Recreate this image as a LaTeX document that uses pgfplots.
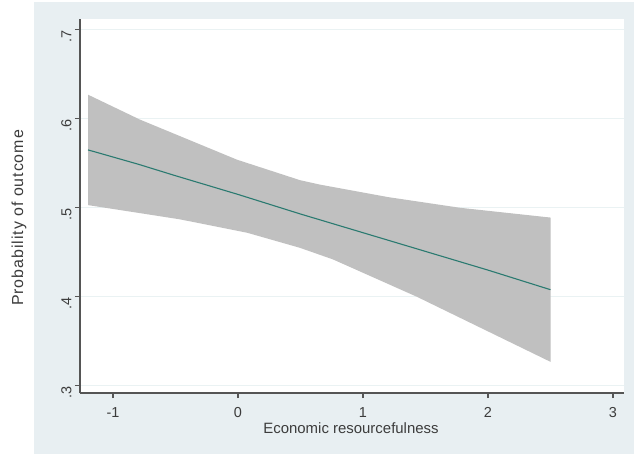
\documentclass[border=0pt]{standalone}
\usepackage{pgfplots}
\pgfplotsset{compat=1.18}
\usepackage{fontspec}
\setmainfont{Liberation Sans}
\definecolor{bgc}{RGB}{232,239,242}
\definecolor{gridc}{RGB}{234,242,243}
\definecolor{bandc}{RGB}{192,192,192}
\definecolor{linec}{RGB}{42,122,112}
\definecolor{axc}{RGB}{85,85,85}
\definecolor{txtc}{RGB}{60,60,60}
\begin{document}
\begin{tikzpicture}
\fill[white] (0,0) rectangle (634bp,454bp);
\fill[bgc] (34bp,0) rectangle (634bp,452bp);
\useasboundingbox (0,0) rectangle (634bp,454bp);
\begin{axis}[
  at={(80bp,61bp)}, anchor=south west,
  scale only axis, width=544bp, height=374bp,
  xmin=-1.264, xmax=3.088, ymin=0.292, ymax=0.712,
  axis x line*=bottom, axis y line*=left,
  axis line style={-, draw=axc, line width=1.1bp},
  axis background/.style={fill=white},
  xtick={-1,0,1,2,3},
  ytick={0.3,0.4,0.5,0.6,0.7},
  yticklabels={.3,.4,.5,.6,.7},
  tick align=outside, major tick length=5bp,
  tick style={draw=axc, line width=1.1bp},
  ymajorgrids, grid style={draw=gridc, line width=1.2bp},
  /pgf/number format/assume math mode=true,
  ticklabel style={font=\fontsize{14.5}{16}\selectfont, text=txtc},
  xticklabel style={yshift=-6bp},
  yticklabel style={rotate=90, anchor=south, xshift=-7bp},
  clip=false,
]
\addplot[fill=bandc, draw=none] coordinates {
 (-1.2,0.627) (-0.784,0.599) (-0.008,0.554) (0.496,0.531) (0.656,0.526) (1.2,0.512) (1.776,0.500) (2.5,0.489)
 (2.5,0.327) (1.432,0.400) (0.76,0.442) (0.496,0.455) (0.072,0.472) (-0.464,0.487) (-0.784,0.494) (-1.2,0.503)
} -- cycle;
\addplot[draw=linec, line width=1.1bp] coordinates {
 (-1.2,0.565) (-0.8,0.549) (-0.5,0.536) (0,0.515) (0.5,0.493) (1,0.472) (1.5,0.451) (2,0.430) (2.5,0.408)
};
\end{axis}
\node[text=txtc, font=\fontsize{15}{17}\selectfont] at (351bp,26bp) {Economic resourcefulness};
\node[text=txtc, rotate=90, font=\fontsize{16}{18}\selectfont\addfontfeatures{LetterSpace=6}] at (19bp,236bp) {Probability of outcome};
\end{tikzpicture}
\end{document}
